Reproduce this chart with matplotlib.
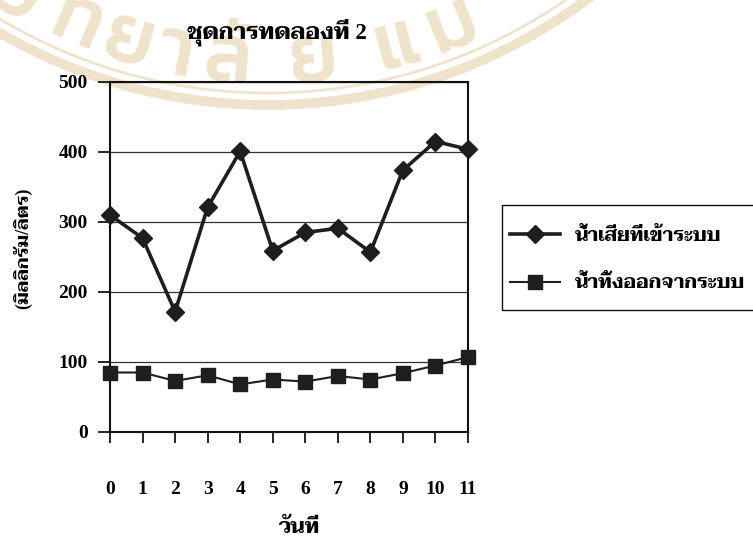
import matplotlib
matplotlib.use("Agg")
import matplotlib.pyplot as plt
from matplotlib import font_manager
from matplotlib.patches import Circle, Rectangle
import numpy as np

# Data
days = list(range(12))
influent = [310, 277, 172, 321, 401, 259, 285, 291, 257, 374, 415, 404]
effluent = [85, 85, 73, 81, 68, 75, 72, 80, 75, 84, 95, 107]
y_ticks = [0, 100, 200, 300, 400, 500]

title = "ชุดการทดลองที่ 2"
x_label = "วันที่"
y_label = "(มิลลิกรัม/ลิตร)"
series_names = ["น้ำเสียที่เข้าระบบ", "น้ำทิ้งออกจากระบบ"]
seal_text = ["วิ", "ท", "ย", "า", "ลั", "ย", "แ", "ม่"]
seal_x = [19, 76, 129, 176, 228, 314, 397, 453]

available = {f.name for f in font_manager.fontManager.ttflist}
thai = next((n for n in ["Taviraj", "Trirong", "Sarabun", "Noto Serif Thai", "Noto Sans Thai"]
             if n in available), "DejaVu Sans")
seal_font = next((n for n in ["Kanit", "Prompt", "Noto Sans Thai"] if n in available), thai)
fam = ["Liberation Serif", thai]

W, H = 753, 542
fig = plt.figure(figsize=(W / 100, H / 100), dpi=100)

# background layer in pixel units for the faint seal
bg = fig.add_axes([0, 0, 1, 1], zorder=0)
bg.set_xlim(0, W)
bg.set_ylim(H, 0)
bg.axis("off")
tan = "#f0e3cb"
cx, cy = 268, -430
bg.add_patch(Circle((cx, cy), 535, fill=False, lw=7, ec=tan))
bg.add_patch(Circle((cx, cy), 523, fill=False, lw=2, ec=tan))
R = 494
for ch, x in zip(seal_text, seal_x):
    phi = np.arcsin((x - cx) / R)
    y = cy + R * np.cos(phi)
    bg.text(x, y, ch, fontsize=58, fontweight="medium", color=tan, family=[seal_font],
            rotation=np.degrees(phi), rotation_mode="anchor", ha="center", va="center")

# legend frame, running off the right edge
bg.add_patch(Rectangle((502, 205), 300, 105, fill=False, lw=1.0, ec="#111111", zorder=3))

# main chart
ax = fig.add_axes([110 / W, 1 - 432 / H, (468 - 110) / W, (432 - 82) / H], zorder=2)
ax.set_facecolor("none")
ink = "#1e1e1e"
l1, = ax.plot(days, influent, color=ink, lw=2.6, marker="D", ms=9, mfc=ink, mec=ink,
              clip_on=False, zorder=4)
l2, = ax.plot(days, effluent, color=ink, lw=1.5, marker="s", ms=10, mfc=ink, mec=ink,
              clip_on=False, zorder=4)
ax.set_xlim(0, 11)
ax.set_ylim(0, 500)
ax.set_xticks(days)
ax.set_yticks(y_ticks)
ax.yaxis.grid(True, color="#333333", lw=0.9)
ax.set_axisbelow(True)
for s in ax.spines.values():
    s.set_linewidth(1.5)
    s.set_color("#111111")
ax.tick_params(axis="x", direction="out", length=8, width=1.2, pad=27, labelsize=14)
ax.tick_params(axis="y", direction="out", length=9, width=1.2, pad=7, labelsize=14)
for lab in ax.get_xticklabels() + ax.get_yticklabels():
    lab.set_family("Liberation Serif")
    lab.set_fontweight("bold")

fig.text(277 / W, 1 - 32 / H, title, ha="center", va="center", fontsize=16.5,
         fontweight="bold", family=fam)
fig.text(299 / W, 1 - 528 / H, x_label, ha="center", va="center", fontsize=15,
         fontweight="bold", family=fam)
fig.text(23 / W, 1 - 248 / H, y_label, ha="center", va="center", rotation=90,
         fontsize=13, fontweight="bold", family=fam)

leg = ax.legend([l1, l2], series_names, loc="upper left",
                bbox_to_anchor=(510 / W, 1 - 227 / H), bbox_transform=fig.transFigure,
                frameon=False, borderpad=0, labelspacing=1.5, handlelength=2.57,
                handletextpad=0.77, borderaxespad=0,
                prop={"family": fam, "weight": "bold", "size": 14})

fig.savefig("out.png")
